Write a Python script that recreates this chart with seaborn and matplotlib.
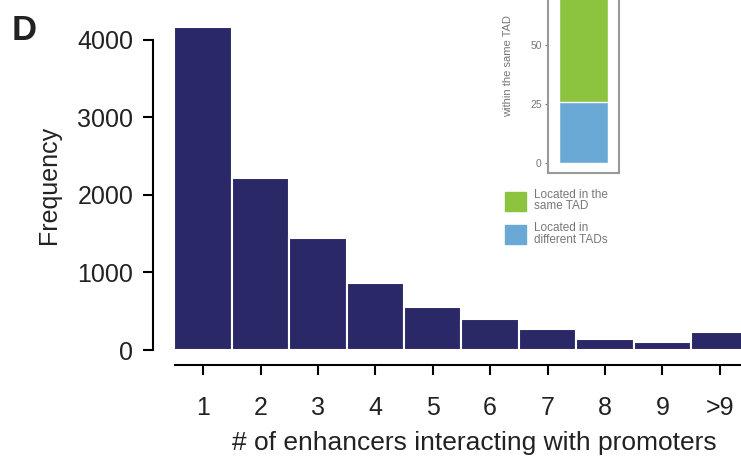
import matplotlib
matplotlib.use("Agg")
import matplotlib.pyplot as plt
import seaborn as sns
from matplotlib.patches import Patch

# data
categories = ["1", "2", "3", "4", "5", "6", "7", "8", "9", ">9"]
frequency = [4168, 2219, 1445, 865, 555, 400, 271, 142, 103, 232]

inset_group = ["pairs"]
same_tad_pct = [100]      # stacked total (top runs off the panel)
different_tad_pct = [26]

navy = "#2a2866"
green = "#8cc43f"
blue = "#6aa9d5"
grey = "#777777"

sns.set_style("ticks")
plt.rcParams["font.family"] = ["Liberation Sans", "DejaVu Sans"]

W, H = 741, 458
fig = plt.figure(figsize=(W / 100, H / 100), dpi=100)

# main histogram
ax = fig.add_axes([175 / W, 1 - 350 / H, (W - 175) / W, 330 / H])
sns.barplot(x=categories, y=frequency, color=navy, saturation=1, width=1.0,
            edgecolor="white", linewidth=1.5, ax=ax)
ax.set_xlim(-0.49, 9.37)
ax.set_ylim(0, 4258)
ax.set_yticks([0, 1000, 2000, 3000, 4000])
sns.despine(ax=ax)
ax.spines["left"].set_position(("outward", 16))
ax.spines["left"].set_bounds(0, 4000)
ax.spines["bottom"].set_position(("outward", 11))
for s in ("left", "bottom"):
    ax.spines[s].set_linewidth(1.5)
    ax.spines[s].set_color("black")
ax.tick_params(axis="both", length=7, width=1.5, color="black",
               labelsize=18, labelcolor="#222222")
ax.tick_params(axis="y", pad=7)
ax.tick_params(axis="x", pad=15)
ax.set_ylabel("Frequency", fontsize=18, labelpad=12, color="#222222")
ax.set_xlabel("# of enhancers interacting with promoters", fontsize=19,
              color="#222222")
ax.xaxis.set_label_coords(0.528, -0.245)

fig.text(12 / W, 1 - 40 / H, "D", fontsize=25, fontweight="bold", color="#222222")

# inset stacked bar
iax = fig.add_axes([548 / W, 1 - 173 / H, 71 / W, 213 / H])
sns.barplot(x=inset_group, y=same_tad_pct, color=green, saturation=1,
            width=0.7, ax=iax)
sns.barplot(x=inset_group, y=different_tad_pct, color=blue, saturation=1,
            width=0.7, ax=iax)
iax.set_xlim(-0.5, 0.5)
iax.set_ylim(-4.2, 86)
iax.set_yticks([0, 25, 50])
iax.set_xticks([])
iax.set_xlabel("")
for s in iax.spines.values():
    s.set_visible(True)
    s.set_color("#999999")
    s.set_linewidth(1.5)
iax.tick_params(axis="y", length=2.5, width=0.8, color=grey, labelsize=7.5,
                labelcolor=grey, pad=2)
iax.set_ylabel("within the same TAD", fontsize=8, color=grey, labelpad=12)

leg = fig.legend(handles=[Patch(color=green, label="Located in the\nsame TAD"),
                          Patch(color=blue, label="Located in\ndifferent TADs")],
                 loc="upper left", bbox_to_anchor=(494 / W, 1 - 178 / H),
                 frameon=False, fontsize=8.5, labelcolor=grey,
                 handlelength=1.85, handleheight=2.1, handletextpad=0.6,
                 labelspacing=0.85)
for t in leg.get_texts():
    t.set_linespacing(0.95)

fig.savefig("out.png", dpi=100)
